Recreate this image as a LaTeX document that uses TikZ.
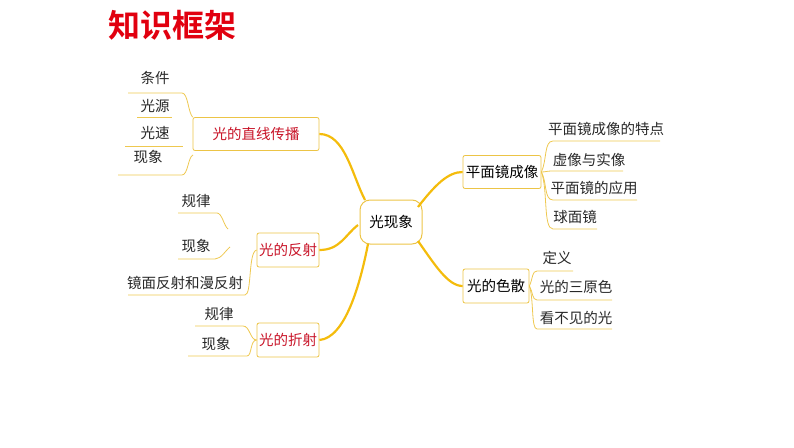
\documentclass[tikz,border=0pt]{standalone}
\usepackage{fontspec}
\newfontfamily\cjk{Noto Sans CJK SC}[BoldFont=Noto Sans CJK SC Bold]
\definecolor{boxline}{RGB}{236,196,70}
\definecolor{mainline}{RGB}{244,188,12}
\definecolor{subline}{RGB}{238,200,80}
\definecolor{topicred}{RGB}{200,20,40}
\definecolor{titlered}{RGB}{225,0,15}
\definecolor{leaftext}{RGB}{40,40,40}
\tikzset{
  title/.style={text=titlered, inner sep=0pt, font=\cjk\bfseries\fontsize{32}{36}\selectfont},
  root/.style={draw=boxline, line width=1pt, rounded corners=10pt, minimum width=62, minimum height=44, text=black},
  topic/.style={draw=boxline, line width=0.8pt, rounded corners=2pt, text=topicred, inner sep=0pt},
  leaf/.style={text=leaftext, inner sep=0pt},
  mainlink/.style={draw=mainline, line width=2.2pt},
  sublink/.style={draw=subline, line width=0.8pt},
}
\begin{document}
\begin{tikzpicture}[x=1pt,y=-1pt,font=\cjk\fontsize{14.5}{16}\selectfont]
  \useasboundingbox (0,0) rectangle (794,447);
  \node[title] (tt) at (172,25) {知识框架};
  % centre and topics
  \node[root] (c) at (391,222) {光现象};
  \node[topic, minimum width=126, minimum height=33] (zx) at (256,134) {光的直线传播};
  \node[topic, minimum width=62, minimum height=34] (fs) at (288,250) {光的反射};
  \node[topic, minimum width=62, minimum height=34] (zs) at (288,340) {光的折射};
  \node[topic, text=black, minimum width=78, minimum height=33] (pm) at (502,172) {平面镜成像};
  \node[topic, text=black, minimum width=66, minimum height=34] (ss) at (496,286) {光的色散};
  \coordinate (c1) at (365,200);
  \coordinate (c2) at (358,225);
  \coordinate (c3) at (368,244);
  \coordinate (c4) at (418,207);
  \coordinate (c5) at (418,241);
  \draw[mainlink] (zx.east) .. controls (345,134) and (352,175) .. (c1);
  \draw[mainlink] (fs.east) .. controls (340,250) and (345,235) .. (c2);
  \draw[mainlink] (zs.east) .. controls (345,338) and (360,285) .. (c3);
  \draw[mainlink] (c4) .. controls (435,185) and (448,172) .. (pm.west);
  \draw[mainlink] (c5) .. controls (435,265) and (448,286) .. (ss.west);
  % 光的直线传播
  \node[leaf] (tj) at (155,78) {条件};
  \node[leaf] (gy) at (155,106) {光源};
  \node[leaf] (gs) at (155,133) {光速};
  \node[leaf] (xx1) at (148,157) {现象};
  \coordinate (tj1) at (128,93);
  \coordinate (tj2) at (182,93);
  \coordinate (gy1) at (137,117);
  \coordinate (gy2) at (172,117);
  \coordinate (gs1) at (125,146);
  \coordinate (gs2) at (183,146);
  \coordinate (xx1a) at (118,175);
  \coordinate (xx1b) at (182,175);
  \draw[sublink] (tj1) -- (tj2) .. controls (188,93) and (188,112) .. (zx.north west);
  \draw[sublink] (gy1) -- (gy2);
  \draw[sublink] (gs1) -- (gs2);
  \draw[sublink] (xx1a) -- (xx1b) .. controls (188,175) and (188,157) .. (193,155);
  % 光的反射
  \node[leaf] (gl1) at (196,201) {规律};
  \node[leaf] (xx2) at (196,246) {现象};
  \node[leaf] (jm) at (185,283) {镜面反射和漫反射};
  \coordinate (gl1a) at (178,213);
  \coordinate (gl1b) at (217,213);
  \coordinate (gl1c) at (228,229);
  \coordinate (xx2a) at (178,259);
  \coordinate (xx2b) at (215,259);
  \coordinate (xx2c) at (230,247);
  \coordinate (jma) at (128,295);
  \coordinate (jmb) at (245,295);
  \draw[sublink] (gl1a) -- (gl1b) .. controls (222,213) and (224,226) .. (gl1c);
  \draw[sublink] (xx2a) -- (xx2b) .. controls (221,259) and (226,250) .. (xx2c);
  \draw[sublink] (jma) -- (jmb) .. controls (252,295) and (248,252) .. (fs.west);
  % 光的折射
  \node[leaf] (gl2) at (219,314) {规律};
  \node[leaf] (xx3) at (216,344) {现象};
  \coordinate (gl2a) at (195,326);
  \coordinate (gl2b) at (243,326);
  \coordinate (xx3a) at (188,356);
  \coordinate (xx3b) at (247,356);
  \draw[sublink] (gl2a) -- (gl2b) .. controls (250,326) and (250,340) .. (zs.west);
  \draw[sublink] (xx3a) -- (xx3b) .. controls (252,356) and (250,340) .. (zs.west);
  % 平面镜成像
  \node[leaf] (td) at (606,129) {平面镜成像的特点};
  \node[leaf] (xs) at (589,160) {虚像与实像};
  \node[leaf] (yy) at (594,188) {平面镜的应用};
  \node[leaf] (qm) at (575,217) {球面镜};
  \coordinate (td1) at (553,141);
  \coordinate (td2) at (660,141);
  \coordinate (xs1) at (553,171);
  \coordinate (xs2) at (623,171);
  \coordinate (yy1) at (553,200);
  \coordinate (yy2) at (637,200);
  \coordinate (qm1) at (553,229);
  \coordinate (qm2) at (597,229);
  \draw[sublink] (pm.east) .. controls (547,160) and (544,141) .. (td1) -- (td2);
  \draw[sublink] (pm.east) .. controls (546,172) and (546,171) .. (xs1) -- (xs2);
  \draw[sublink] (pm.east) .. controls (547,182) and (544,200) .. (yy1) -- (yy2);
  \draw[sublink] (pm.east) .. controls (548,190) and (543,229) .. (qm1) -- (qm2);
  % 光的色散
  \node[leaf] (dy) at (557,258) {定义};
  \node[leaf] (sy) at (576,287) {光的三原色};
  \node[leaf] (kb) at (576,318) {看不见的光};
  \coordinate (dy1) at (537,271);
  \coordinate (dy2) at (573,271);
  \coordinate (sy1) at (537,300);
  \coordinate (sy2) at (612,300);
  \coordinate (kb1) at (537,329);
  \coordinate (kb2) at (612,329);
  \draw[sublink] (ss.east) .. controls (533,278) and (532,271) .. (dy1) -- (dy2);
  \draw[sublink] (ss.east) .. controls (533,292) and (532,300) .. (sy1) -- (sy2);
  \draw[sublink] (ss.east) .. controls (534,300) and (531,329) .. (kb1) -- (kb2);
\end{tikzpicture}
\end{document}
